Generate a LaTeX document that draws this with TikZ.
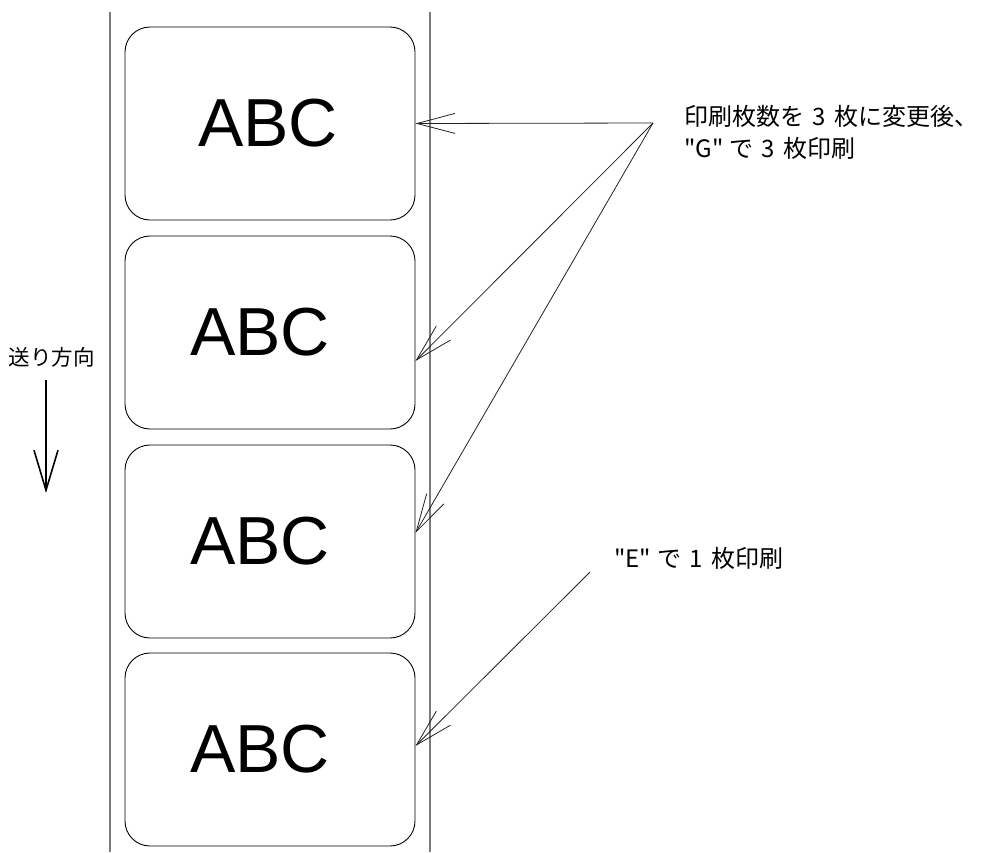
\documentclass[tikz,border=0pt]{standalone}
\usepackage{fontspec}
\setmainfont{Liberation Sans}
\newfontfamily\jpfont{Noto Sans CJK JP}
\usepackage{tikz}
\definecolor{linergray}{HTML}{7A7A7A}
\definecolor{leadgray}{HTML}{222222}
\usetikzlibrary{positioning, arrows.meta, shapes}
\tikzstyle{arrow} = [thin,-{Straight Barb[length=38pt,width=20pt]}]

\begin{document}
\begin{tikzpicture}[x=1pt,y=-1pt]
                    \tikzstyle{every node}=[inner sep=0pt]
                    \tikzstyle{tag} = [draw=black, line width=0.9pt, rounded corners=25pt, minimum width=290pt, minimum height=193pt, font=\fontsize{68}{68}\selectfont]
                    \tikzstyle{note} = [font=\jpfont\fontsize{24}{32}\selectfont, align=left]
                    \tikzstyle{lead} = [arrow, draw=leadgray, line width=0.8pt]
                    \tikzstyle{feed} = [line width=1.6pt, -{Straight Barb[length=40pt,width=24pt]}]
                    \useasboundingbox (0,0) rectangle (993,852);

                    % liner edges
                    \draw[linergray, line width=1.5pt] (110,12) -- (110,852);
                    \draw[linergray, line width=1.5pt] (430,12) -- (430,852);

                    \node[tag](l1) at (270,123.5) {\hspace*{-4pt}ABC};
                    \node[tag](l2) at (270,332.5) {\hspace*{-20pt}ABC};
                    \node[tag](l3) at (270,541.5) {\hspace*{-20pt}ABC};
                    \node[tag](l4) at (270,749.5) {\hspace*{-20pt}ABC};

                    \node[note, anchor=west](t1) at (684,132) {印刷枚数を\hspace{0.35em}3\hspace{0.35em}枚に変更後、\\"G"\hspace{0.25em}で\hspace{0.35em}3\hspace{0.35em}枚印刷};
                    \node[note, anchor=west](t2) at (614,558) {"E"\hspace{0.25em}で\hspace{0.35em}1\hspace{0.35em}枚印刷};
                    \node[note, font=\jpfont\fontsize{21.5}{21.5}\selectfont](dir) at (52,357) {送り方向};

                    \coordinate (g) at (653,123);
                    \coordinate (e) at (590,572);
                    \coordinate (f0) at (46,380);
                    \coordinate (f1) at (46,493);

                    \draw[lead] (g) -- (l1.east);
                    \draw[lead] (g) -- ([yshift=-28.5pt]l2.east);
                    \draw[lead] (g) -- ([yshift=8.5pt]l3.east);
                    \draw[lead] (e) -- ([yshift=3.5pt]l4.east);
                    \draw[feed] (f0) -- (f1);
            \end{tikzpicture}
\end{document}
